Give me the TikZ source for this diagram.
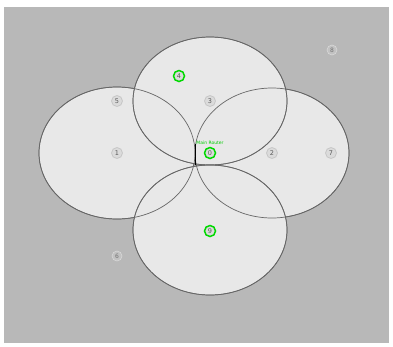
\documentclass[tikz,border=0pt]{standalone}
\usepackage{fontspec}
\setmainfont{DejaVu Sans}
\usetikzlibrary{shapes.geometric}
\begin{document}
\begin{tikzpicture}[x=1pt,y=-1pt,
  zone/.style={draw=black!60,line width=0.7pt,fill=black!9,ellipse,inner sep=0pt},
  dev/.style={circle,draw=black!22,fill=black!14,line width=0.8pt,inner sep=0pt,minimum size=11pt,font=\fontsize{6.5}{7}\selectfont,text=black!65},
  act/.style={dev,draw=green!85!black,line width=1.5pt,fill=black!14},
  far/.style={circle,draw=white!85!black,fill=black!24,line width=0.6pt,inner sep=0pt,minimum size=10pt,font=\fontsize{6}{7}\selectfont,text=black!55}]
\useasboundingbox (0,0) rectangle (393,346);
\fill[white] (0,0) rectangle (393,346);
\fill[black!28] (4,7) rectangle (389,343);
% coverage zones
\node[zone,minimum width=156pt,minimum height=132pt] (zl) at (117,153) {};
\node[zone,minimum width=154pt,minimum height=130pt] (zr) at (272,153) {};
\node[zone,minimum width=154pt,minimum height=128pt] (zt) at (210,101) {};
\node[zone,minimum width=154pt,minimum height=130pt] (zb) at (210,230) {};
% redraw outlines so all borders show
\draw[black!60,line width=0.7pt] (zl.center) ellipse (78 and 66);
\draw[black!60,line width=0.7pt] (zr.center) ellipse (77 and 65);
\draw[black!60,line width=0.7pt] (zt.center) ellipse (77 and 64);
\draw[black!60,line width=0.7pt] (zb.center) ellipse (77 and 65);
\coordinate (ja) at (195,144);
\coordinate (jb) at (195,165);
\draw[black,line width=1pt] (ja) -- (jb);
% devices
\node[act] (n4) at (179,76) {4};
\node[dev] (n3) at (210,101) {3};
\node[dev] (n5) at (117,101) {5};
\node[dev] (n1) at (117,153) {1};
\node[act] (n0) at (210,153) {0};
\node[font=\fontsize{4.5}{5}\selectfont,text=green!80!black,anchor=south,inner sep=1pt] (lbl) at (210,146) {Main Router};
\node[dev] (n2) at (272,153) {2};
\node[dev] (n7) at (331,153) {7};
\node[act] (n9) at (210,231) {9};
\node[far] (n6) at (117,256) {6};
\node[far] (n8) at (332,50) {8};
\end{tikzpicture}
\end{document}
